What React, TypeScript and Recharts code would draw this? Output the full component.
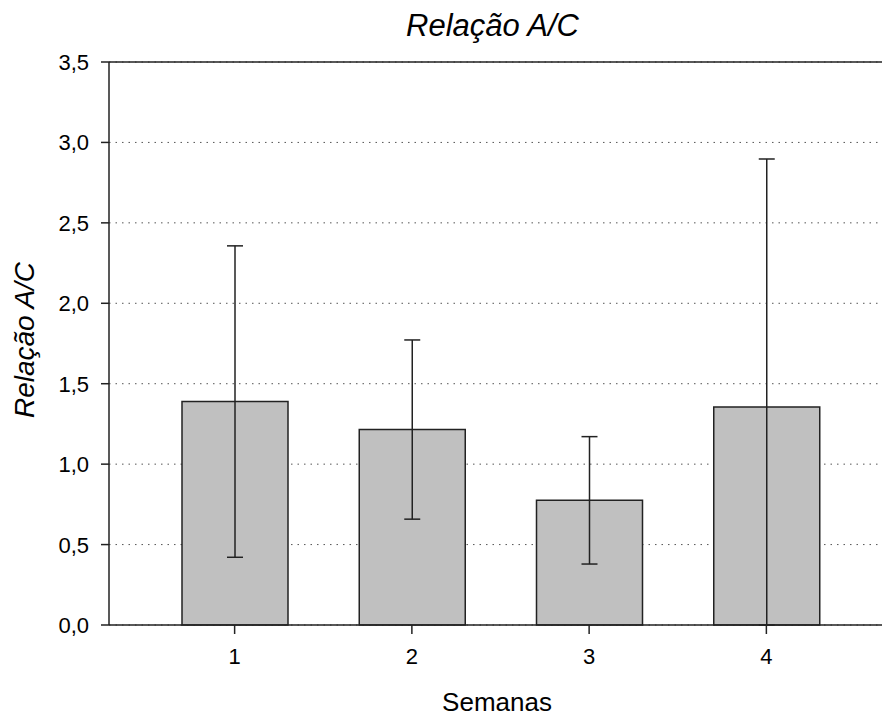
import { Bar, BarChart, CartesianGrid, ErrorBar, ReferenceLine, XAxis, YAxis } from "recharts";

const WEEKS = ["1", "2", "3", "4"];
const MEANS = [1.389, 1.215, 0.775, 1.355];
const ERRORS = [0.968, 0.557, 0.396, 1.542];
const Y_TICKS = [0, 0.5, 1, 1.5, 2, 2.5, 3, 3.5];

// lower whisker stops at the axis (0), as in the original plot
const data = WEEKS.map((semana, i) => ({
  semana,
  media: MEANS[i],
  erro: [Math.min(ERRORS[i], MEANS[i]), ERRORS[i]],
}));

const FONT = "'Liberation Sans', Arial, sans-serif";
const INK = "#222";

const fmt = (v: number) => v.toFixed(1).replace(".", ",");

function XTick({ x, y, payload }: any) {
  return (
    <text x={x} y={y + 30} textAnchor="middle" fontSize={22} fontFamily={FONT} fill="#000">
      {payload.value}
    </text>
  );
}

function YTick({ x, y, payload }: any) {
  return (
    <text x={x - 12} y={y + 8} textAnchor="end" fontSize={22} fontFamily={FONT} fill="#000">
      {fmt(payload.value)}
    </text>
  );
}

export default function App() {
  return (
    <div style={{ position: "absolute", left: 0, top: 0, width: 882, height: 717, fontFamily: FONT, background: "#fff" }}>
      <div
        style={{
          position: "absolute",
          left: 0,
          top: 8,
          width: 985,
          textAlign: "center",
          fontSize: 31,
          fontStyle: "italic",
          color: "#000",
        }}
      >
        Relação A/C
      </div>
      <BarChart
        width={882}
        height={717}
        data={data}
        margin={{ top: 62, right: 0, bottom: 0, left: 0 }}
        style={{ fontFamily: FONT }}
      >
        <CartesianGrid vertical={false} stroke="#555" strokeDasharray="1.5 5" />
        <XAxis
          dataKey="semana"
          height={92}
          padding={{ left: 37, right: 27 }}
          tickSize={9}
          tickMargin={0}
          stroke={INK}
          strokeWidth={1.5}
          tick={<XTick />}
          label={{
            content: () => (
              <text x={497} y={711} textAnchor="middle" fontSize={26} fill="#000" fontFamily={FONT}>
                Semanas
              </text>
            ),
          }}
        />
        <YAxis
          width={109}
          domain={[0, 3.5]}
          ticks={Y_TICKS}
          tickSize={8}
          tickMargin={0}
          stroke={INK}
          strokeWidth={1.5}
          tick={<YTick />}
          label={{
            content: () => (
              <text
                x={24}
                y={340}
                transform="rotate(-90, 24, 340)"
                textAnchor="middle"
                dominantBaseline="central"
                fontSize={28}
                fontStyle="italic"
                fill="#000"
                fontFamily={FONT}
              >
                Relação A/C
              </text>
            ),
          }}
        />
        <ReferenceLine y={3.5} stroke={INK} strokeWidth={1.5} />
        <Bar dataKey="media" barSize={106} fill="#c0c0c0" stroke={INK} strokeWidth={1.5} isAnimationActive={false}>
          <ErrorBar dataKey="erro" width={8} stroke={INK} strokeWidth={1.5} isAnimationActive={false} />
        </Bar>
      </BarChart>
    </div>
  );
}
